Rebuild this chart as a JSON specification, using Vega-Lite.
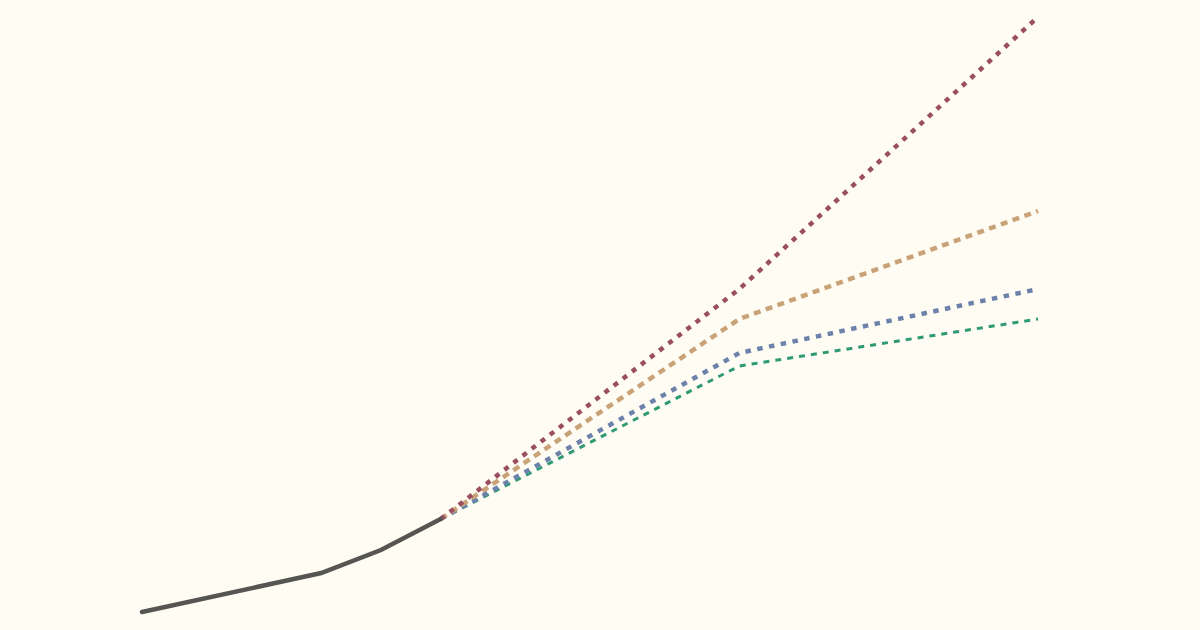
{
  "$schema": "https://vega.github.io/schema/vega-lite/v6.json",
  "autosize": "none",
  "width": 896,
  "height": 630,
  "padding": {"left": 142, "right": 162, "top": 0, "bottom": 0},
  "background": "#fffcf4",
  "config": {"view": {"stroke": null}},
  "data": {"values": [
    {"series": "historical", "year": 1950, "value": 18},
    {"series": "historical", "year": 1980, "value": 57},
    {"series": "historical", "year": 1990, "value": 80},
    {"series": "historical", "year": 2000, "value": 111},
    {"series": "high", "year": 2000, "value": 111},
    {"series": "high", "year": 2050, "value": 341},
    {"series": "high", "year": 2100, "value": 613},
    {"series": "midhigh", "year": 2000, "value": 111},
    {"series": "midhigh", "year": 2050, "value": 311},
    {"series": "midhigh", "year": 2100, "value": 419},
    {"series": "midlow", "year": 2000, "value": 111},
    {"series": "midlow", "year": 2050, "value": 277},
    {"series": "midlow", "year": 2100, "value": 341},
    {"series": "low", "year": 2000, "value": 111},
    {"series": "low", "year": 2050, "value": 264},
    {"series": "low", "year": 2100, "value": 311}
  ]},
  "encoding": {
    "x": {"field": "year", "type": "quantitative", "scale": {"domain": [1950, 2100], "nice": false, "zero": false}, "axis": null},
    "y": {"field": "value", "type": "quantitative", "scale": {"domain": [0, 630], "nice": false}, "axis": null}
  },
  "layer": [
    {"transform": [{"filter": "datum.series === 'low'"}], "mark": {"type": "line", "color": "#2e9a74", "strokeWidth": 3, "strokeDash": [6, 6]}},
    {"transform": [{"filter": "datum.series === 'midlow'"}], "mark": {"type": "line", "color": "#6d82ab", "strokeWidth": 4.5, "strokeDash": [5.5, 6.5]}},
    {"transform": [{"filter": "datum.series === 'midhigh'"}], "mark": {"type": "line", "color": "#c9a377", "strokeWidth": 4.5, "strokeDash": [7, 5.5]}},
    {"transform": [{"filter": "datum.series === 'high'"}], "mark": {"type": "line", "color": "#9a4f5e", "strokeWidth": 4.5, "strokeDash": [5, 6.5]}},
    {"transform": [{"filter": "datum.series === 'historical'"}], "mark": {"type": "line", "color": "#555552", "strokeWidth": 4.5, "strokeCap": "round"}}
  ]
}
